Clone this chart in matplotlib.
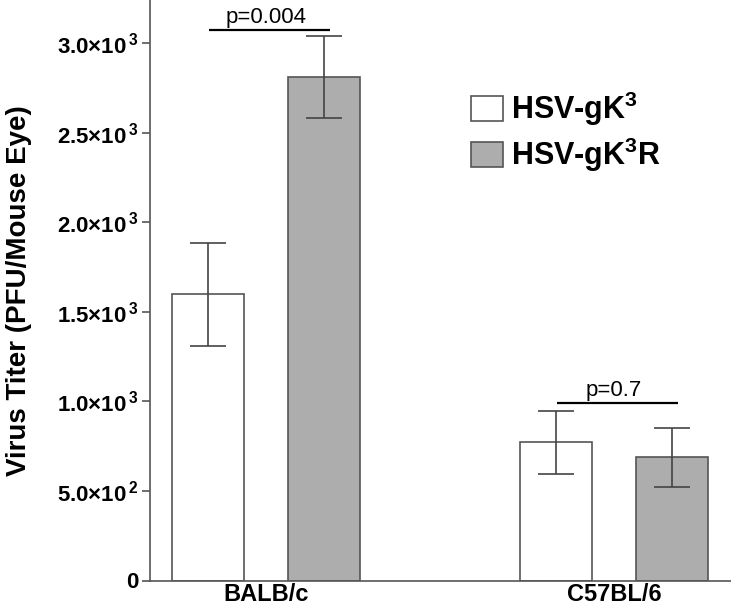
import matplotlib
matplotlib.use("Agg")
import matplotlib.pyplot as plt
import numpy as np
from matplotlib.patches import Patch
from matplotlib.ticker import FixedLocator, FuncFormatter

plt.rcParams['font.family'] = ['Liberation Sans', 'DejaVu Sans']
plt.rcParams['mathtext.fontset'] = 'custom'
plt.rcParams['mathtext.rm'] = 'Liberation Sans:bold'
plt.rcParams['mathtext.bf'] = 'Liberation Sans:bold'
plt.rcParams['mathtext.default'] = 'rm'

# data
groups = ['BALB/c', 'C57BL/6']
series = ['HSV-gK$^{3}$', 'HSV-gK$^{3}$R']
means = {
    'HSV-gK$^{3}$': [1598, 771],
    'HSV-gK$^{3}$R': [2813, 688],
}
errors = {
    'HSV-gK$^{3}$': [290, 176],
    'HSV-gK$^{3}$R': [231, 164],
}
colors = ['white', '#adadad']
p_labels = ['p=0.004', 'p=0.7']
p_line_y = [3075, 993]
yticks = [0, 500, 1000, 1500, 2000, 2500, 3000]

fig = plt.figure(figsize=(7.31, 6.09), dpi=100)
ax = fig.add_axes([150 / 731, 28.5 / 609, 581 / 731, 580.5 / 609])

x = np.arange(len(groups))
off = 1 / 6
width = 0.207

for i, s in enumerate(series):
    pos = x + (i * 2 - 1) * off
    ax.bar(pos, means[s], width, color=colors[i], edgecolor='#555555',
           linewidth=1.2, zorder=2)
    ax.errorbar(pos, means[s], yerr=errors[s], fmt='none', ecolor='#444444',
                elinewidth=1.2, capsize=13, capthick=1.2, zorder=3)

# significance lines
for gx, lab, ly in zip(x, p_labels, p_line_y):
    ax.plot([gx - off + 0.003, gx + off + 0.018], [ly, ly], color='black',
            lw=1.6, solid_capstyle='butt', zorder=3)
    ax.annotate(lab, (gx, ly), xytext=(0, 5), textcoords='offset points',
                ha='center', va='baseline', fontsize=16)

ax.set_xlim(-1 / 3, 1.336)
ax.set_ylim(0, 3243)

def fmt(v, _):
    if v == 0:
        return '0'
    e = int(np.floor(np.log10(v)))
    return r'$%.1f{\times}10^{\,%d}$' % (v / 10 ** e, e)

ax.yaxis.set_major_locator(FixedLocator(yticks))
ax.yaxis.set_major_formatter(FuncFormatter(fmt))
ax.set_xticks(x)
ax.set_xticklabels(groups, fontsize=17, fontweight='bold')
ax.tick_params(axis='x', length=0, pad=2)
ax.tick_params(axis='y', length=6, width=1.2, color='#555555', pad=2,
               labelsize=16)
for t in ax.get_yticklabels():
    t.set_fontweight('bold')

for side in ['top', 'right']:
    ax.spines[side].set_visible(False)
for side in ['left', 'bottom']:
    ax.spines[side].set_color('#555555')
    ax.spines[side].set_linewidth(1.2)

ax.set_ylabel('Virus Titer (PFU/Mouse Eye)', fontsize=20, fontweight='bold')
ax.yaxis.set_label_coords(-0.203, 0.5)

handles = [Patch(facecolor=c, edgecolor='#555555', linewidth=1.2) for c in colors]
ax.legend(handles, series, loc='upper left', bbox_to_anchor=(471 / 731, 1 - 90 / 609),
          bbox_transform=fig.transFigure, frameon=False, borderpad=0,
          borderaxespad=0, handlelength=1.05, handleheight=0.88,
          handletextpad=0.25, labelspacing=0.25,
          prop={'size': 22, 'weight': 'bold'})

fig.savefig('out.png', dpi=100)
